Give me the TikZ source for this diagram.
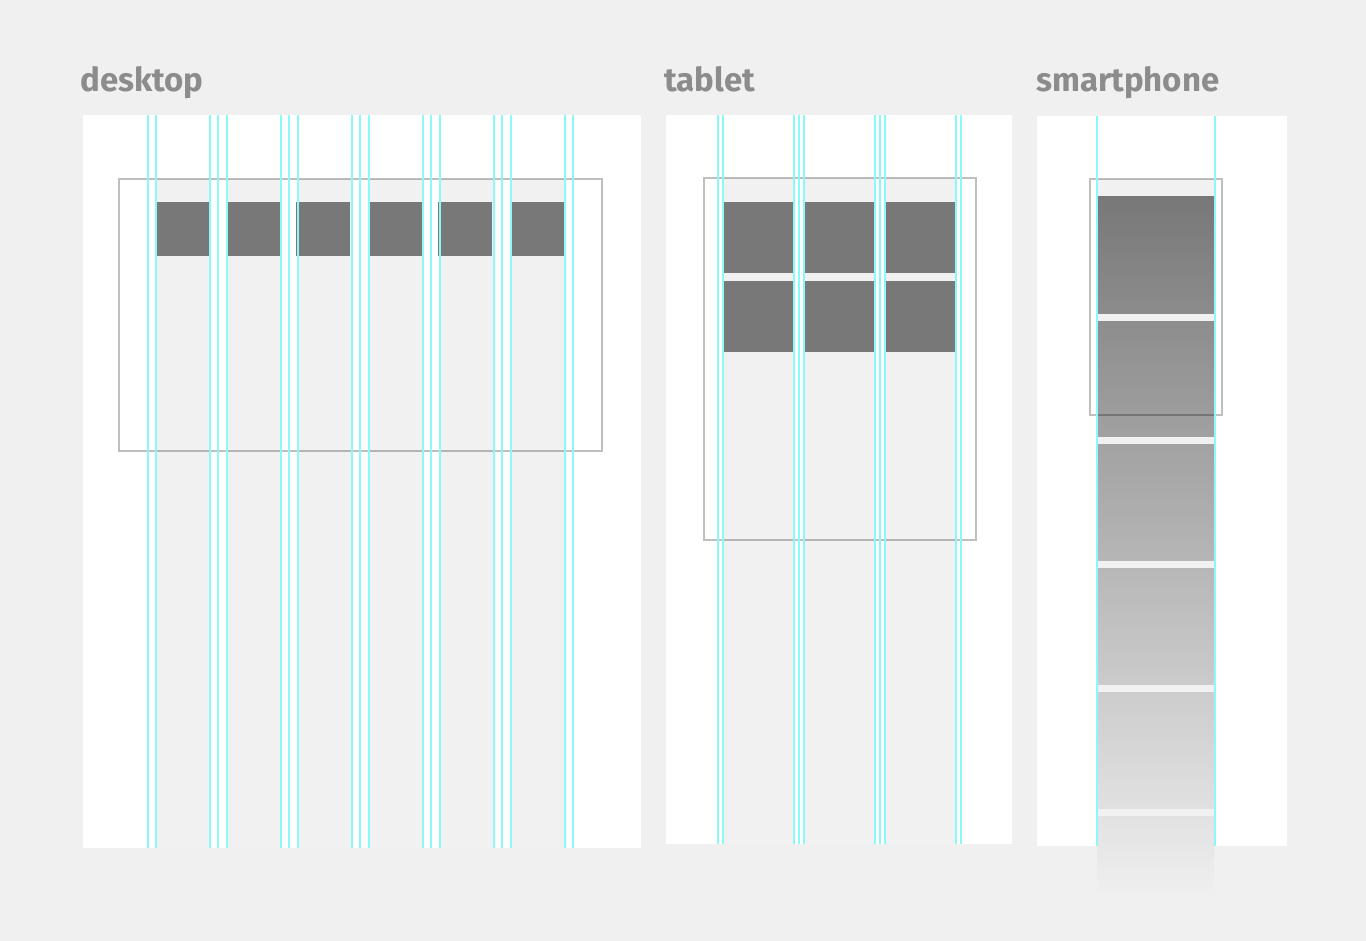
\documentclass[tikz,border=0pt]{standalone}
\usepackage{xcolor}
\usepackage{tikz}
\usepackage{fontspec}
\setmainfont{Fira Sans}
\usetikzlibrary{positioning}
\definecolor{pagebg}{HTML}{F0F0F0}
\definecolor{colbg}{HTML}{F1F1F1}
\definecolor{blockgray}{HTML}{787878}
\definecolor{titlegray}{HTML}{8C8C8C}
\definecolor{guide}{HTML}{8CF8F8}

\begin{document}
\begin{tikzpicture}[x=1pt,y=-1pt,
                    panel/.style={fill=white},
                    column/.style={fill=colbg},
                    block/.style={fill=blockgray},
                    frame/.style={draw=black,draw opacity=0.25,line width=1.2pt},
                    guideline/.style={draw=guide,line width=1.3pt},
                    title/.style={font=\fontsize{33}{36}\selectfont\bfseries,text=titlegray,inner sep=0pt,anchor=base west}]

 \fill[pagebg] (0,0) rectangle (1366,941);
 \useasboundingbox (0,0) rectangle (1366,941);

 \node[title] (desktop) at (80,92) {desktop};
 \node[title] (tablet) at (664,92) {tablet};
 \node[title] (smartphone) at (1036,92) {smartphone};

 % desktop
 \fill[panel] (83,115) rectangle (641,848);
 \foreach \x in {156,227,298,369,440,511}
   \fill[column] (\x,179) rectangle ++(54,669);
 \foreach \x in {156,226,296,368,438,510}
   \fill[block] (\x,202) rectangle ++(54,54);
 \draw[frame] (119,179) rectangle (602,451);
 \foreach \x in {148,156,210,218,227,281,289,298,352,360,369,423,431,440,494,502,511,565,573}
   \draw[guideline] (\x,115) -- (\x,848);

 % tablet
 \fill[panel] (666,115) rectangle (1012,844);
 \foreach \x in {723,804,885}
   \fill[column] (\x,178) rectangle ++(71,666);
 \foreach \x in {723,804,884}
   \foreach \y in {202,281}
     \fill[block] (\x,\y) rectangle ++(71,71);
 \draw[frame] (704,178) rectangle (976,540);
 \foreach \x in {718,723,794,799,804,875,880,885,956,961}
   \draw[guideline] (\x,115) -- (\x,844);

 % smartphone
 \fill[panel] (1037,116) rectangle (1287,846);
 \fill[column] (1097,179) rectangle (1214,846);
 \shade[top color=blockgray,bottom color=pagebg] (1097,197) rectangle (1214,900);
 \foreach \y in {314,437,561,685,809}
   \fill[colbg] (1097,\y) rectangle ++(117,7);
 \draw[frame] (1090,179) rectangle (1222,415);
 \foreach \x in {1097,1215}
   \draw[guideline] (\x,116) -- (\x,846);

\end{tikzpicture}
\end{document}
